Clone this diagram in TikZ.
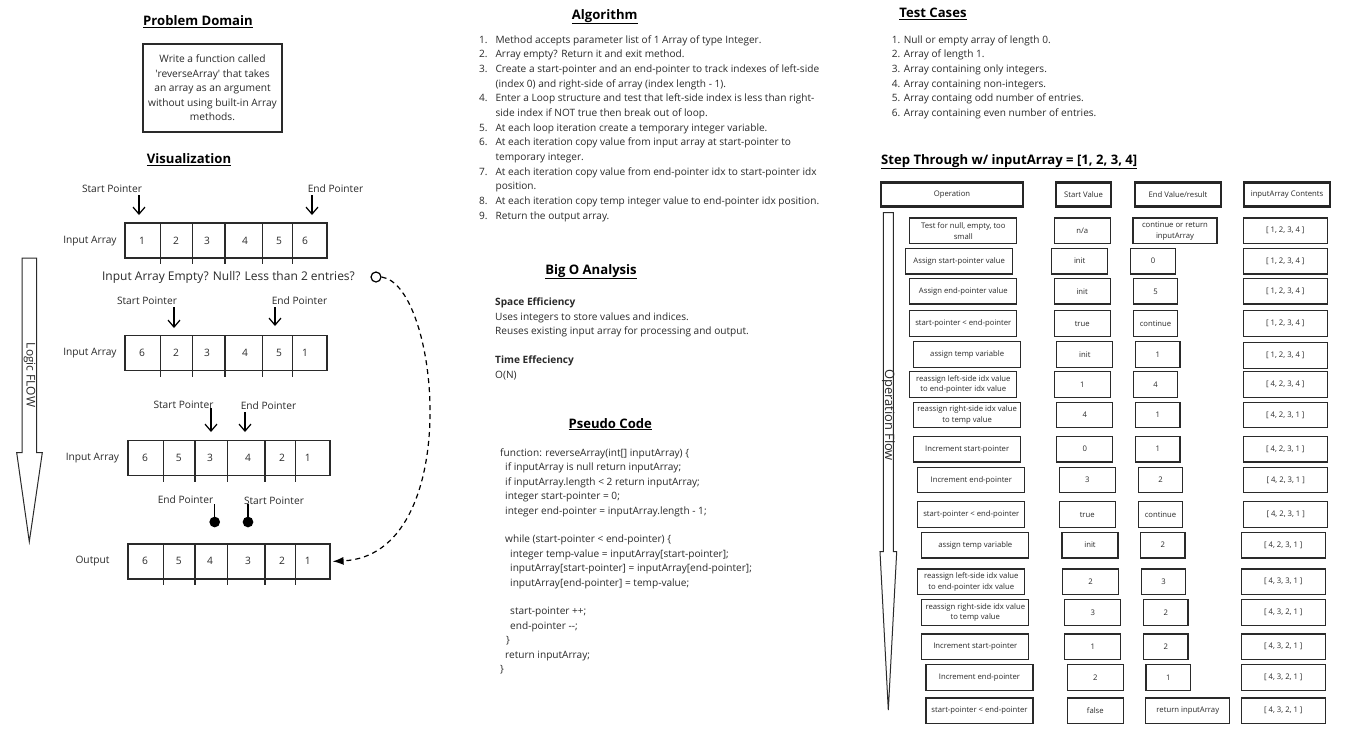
\documentclass[tikz,border=0pt]{standalone}
\usepackage{fontspec}
\setmainfont{Open Sans}
\usepackage{xcolor}
\usepackage{tikz}
\usetikzlibrary{arrows.meta}
\definecolor{ink}{HTML}{2A2A2A}
\newcommand{\tblfont}{\fontsize{7.7}{10.7}\selectfont}
\newcommand{\bodyfont}{\fontsize{10.1}{14.6}\selectfont}
\newcommand{\itm}[1]{\makebox[16.4pt][l]{#1}}

\begin{document}
\begin{tikzpicture}[x=1pt,y=-1pt,
    txt/.style={inner sep=0pt,text=ink,font=\bodyfont,align=left},
    ttl/.style={inner sep=0pt,text=black,font=\fontsize{13.1}{15}\selectfont\bfseries},
    lbl/.style={inner sep=0pt,text=ink,font=\fontsize{10.2}{12}\selectfont},
    arrbox/.style={draw=ink,line width=1.2pt,minimum width=202pt,minimum height=35pt,inner sep=0pt},
    ptr/.style={draw=black,line width=1.2pt,-{Straight Barb[length=7pt,width=12pt]}},
    pinline/.style={draw=black,line width=1.2pt,-{Circle[length=10.6pt]}},
    flow/.style={draw=ink,line width=1pt,fill=white},
    hdbox/.style={draw=black!85,line width=2.6pt,minimum height=24pt,inner sep=0pt,text=ink,font=\tblfont},
    opbox/.style={draw=ink,line width=1.3pt,minimum width=107pt,minimum height=25.5pt,inner sep=0pt,align=center,text=ink,font=\tblfont},
    valbox/.style={opbox,minimum width=56pt},
    endbox/.style={opbox,minimum width=44.5pt},
    widebox/.style={opbox,minimum width=84pt}]
    \useasboundingbox[fill=white] (0,0) rectangle (1347,742);

    %%% TITLES %%%
    \node[ttl,anchor=base] (tpd) at (198,25.7) {\underline{Problem Domain}};
    \node[ttl,anchor=base] (tvis) at (189,163.7) {\underline{Visualization}};
    \node[ttl,anchor=base] (talg) at (604.7,19) {\underline{Algorithm}};
    \node[ttl,anchor=base] (tbig) at (591,274) {\underline{Big O Analysis}};
    \node[ttl,anchor=base] (tpc) at (610.3,428) {\underline{Pseudo Code}};
    \node[ttl,anchor=base] (ttc) at (933,17.4) {\underline{Test Cases}};
    \node[ttl,anchor=base west] (tst) at (881,164) {\underline{Step Through w/ inputArray = [1, 2, 3, 4]}};

    %%% PROBLEM DOMAIN %%%
    \node[draw=ink,line width=1.2pt,minimum width=139pt,minimum height=88pt,align=center,inner sep=0pt,text=ink,font=\fontsize{10.2}{14.5}\selectfont] (pd) at (212.5,88)
        {Write a function called\\\textquotesingle reverseArray\textquotesingle{} that takes\\an array as an argument\\without using built-in Array\\methods.};

    %%% TEXT BLOCKS %%%
    % multi-line nodes sit on the baseline of their last line
    \node[txt,anchor=base west,font=\fontsize{10.1}{14.65}\selectfont] (alg) at (479,219.1)
        {\itm{1.}Method accepts parameter list of 1 Array of type Integer.\\
        \itm{2.}Array empty? Return it and exit method.\\
        \itm{3.}Create a start-pointer and an end-pointer to track indexes of left-side\\
        \itm{}(index 0) and right-side of array (index length - 1).\\
        \itm{4.}Enter a Loop structure and test that left-side index is less than right-\\
        \itm{}side index if NOT true then break out of loop.\\
        \itm{5.}At each loop iteration create a temporary integer variable.\\
        \itm{6.}At each iteration copy value from input array at start-pointer to\\
        \itm{}temporary integer.\\
        \itm{7.}At each iteration copy value from end-pointer idx to start-pointer idx\\
        \itm{}position.\\
        \itm{8.}At each iteration copy temp integer value to end-pointer idx position.\\
        \itm{9.}Return the output array.};
    \node[txt,anchor=base west] (tcs) at (891.7,116.3)
        {1. Null or empty array of length 0.\\
        2. Array of length 1.\\
        3. Array containing only integers.\\
        4. Array containing non-integers.\\
        5. Array containg odd number of entries.\\
        6. Array containing even number of entries.};
    \node[txt,anchor=base west,font=\fontsize{10.1}{14.5}\selectfont] (bigo) at (495,378)
        {\textbf{Space Efficiency}\\
        Uses integers to store values and indices.\\
        Reuses existing input array for processing and output.\\
        \mbox{}\\
        \textbf{Time Effeciency}\\
        O(N)};
    \node[txt,anchor=base west,font=\fontsize{10.1}{14.4}\selectfont] (pcode) at (500,672.5)
        {function: reverseArray(int[] inputArray) \{\\
        \hspace*{5pt}if inputArray is null return inputArray;\\
        \hspace*{5pt}if inputArray.length < 2 return inputArray;\\
        \hspace*{5pt}integer start-pointer = 0;\\
        \hspace*{5pt}integer end-pointer = inputArray.length - 1;\\
        \mbox{}\\
        \hspace*{5pt}while (start-pointer < end-pointer) \{\\
        \hspace*{10pt}integer temp-value = inputArray[start-pointer];\\
        \hspace*{10pt}inputArray[start-pointer] = inputArray[end-pointer];\\
        \hspace*{10pt}inputArray[end-pointer] = temp-value;\\
        \mbox{}\\
        \hspace*{10pt}start-pointer ++;\\
        \hspace*{10pt}end-pointer -{}-;\\
        \hspace*{6pt}\}\\
        \hspace*{5pt}return inputArray;\\
        \}};

    %%% VISUALIZATION %%%
    \node[arrbox] (a1) at (226,240.5) {};
    \draw[draw=ink,line width=1.1pt] (160.7,222)--(160.7,264) (192.3,222)--(192.3,264) (225,222)--(225,264) (262.3,222)--(262.3,264) (292.7,222)--(292.7,264);
    \node[lbl] (a1v1) at (142,241) {1}; \node[lbl] (a1v2) at (176,241) {2}; \node[lbl] (a1v3) at (207,241) {3};
    \node[lbl] (a1v4) at (245,241) {4}; \node[lbl] (a1v5) at (279,241) {5}; \node[lbl] (a1v6) at (305,241) {6};
    \node[lbl] (lia1) at (90,241) {Input Array};
    \node[lbl] (spa1) at (112,189) {Start Pointer};
    \node[lbl] (epa1) at (335.5,189) {End Pointer};
    \coordinate (spa1t) at (139,195); \coordinate (spa1h) at (139,215);
    \coordinate (epa1t) at (312,195); \coordinate (epa1h) at (312,215);
    \draw[ptr] (spa1t)--(spa1h);
    \draw[ptr] (epa1t)--(epa1h);

    \node[lbl,font=\fontsize{12}{14}\selectfont] (q) at (228.5,277) {Input Array Empty? Null? Less than 2 entries?};
    \node[draw=black,line width=1.2pt,circle,minimum size=10pt,inner sep=0pt] (qc) at (376,277) {};

    \node[arrbox] (a2) at (226,353.2) {};
    \draw[draw=ink,line width=1.1pt] (160.7,335)--(160.7,377) (192.3,335)--(192.3,377) (225,335)--(225,377) (262.3,335)--(262.3,377) (292.7,335)--(292.7,377);
    \node[lbl] (a2v1) at (142,353) {6}; \node[lbl] (a2v2) at (176,353) {2}; \node[lbl] (a2v3) at (207,353) {3};
    \node[lbl] (a2v4) at (245,353) {4}; \node[lbl] (a2v5) at (279,353) {5}; \node[lbl] (a2v6) at (305,353) {1};
    \node[lbl] (lia2) at (90,353) {Input Array};
    \node[lbl] (spa2) at (147,301) {Start Pointer};
    \node[lbl] (epa2) at (299.5,301) {End Pointer};
    \coordinate (spa2t) at (174,307); \coordinate (spa2h) at (174,328);
    \coordinate (epa2t) at (275,307); \coordinate (epa2h) at (275,326);
    \draw[ptr] (spa2t)--(spa2h);
    \draw[ptr] (epa2t)--(epa2h);

    \node[arrbox] (a3) at (229,458.3) {};
    \draw[draw=ink,line width=1.1pt] (163.3,440)--(163.3,482) (195,440)--(195,482) (227.7,440)--(227.7,482) (265,440)--(265,482) (295.3,440)--(295.3,482);
    \node[lbl] (a3v1) at (145,458) {6}; \node[lbl] (a3v2) at (178.7,458) {5}; \node[lbl] (a3v3) at (210,458) {3};
    \node[lbl] (a3v4) at (248,458) {4}; \node[lbl] (a3v5) at (282,458) {2}; \node[lbl] (a3v6) at (307.7,458) {1};
    \node[lbl] (lia3) at (92.5,458) {Input Array};
    \node[lbl] (spa3) at (183.5,405) {Start Pointer};
    \node[lbl] (epa3) at (268.5,406) {End Pointer};
    \coordinate (spa3t) at (211,408); \coordinate (spa3h) at (211,432);
    \coordinate (epa3t) at (245,412); \coordinate (epa3h) at (245,432);
    \draw[ptr] (spa3t)--(spa3h);
    \draw[ptr] (epa3t)--(epa3h);

    \node[arrbox] (a4) at (229,561.5) {};
    \draw[draw=ink,line width=1.1pt] (163.3,543)--(163.3,585) (195,543)--(195,585) (227.7,543)--(227.7,585) (265,543)--(265,585) (295.3,543)--(295.3,585);
    \node[lbl] (a4v1) at (145,561) {6}; \node[lbl] (a4v2) at (178.7,561) {5}; \node[lbl] (a4v3) at (210,561) {4};
    \node[lbl] (a4v4) at (248,561) {3}; \node[lbl] (a4v5) at (282,561) {2}; \node[lbl] (a4v6) at (307.7,561) {1};
    \node[lbl] (out) at (92.5,561) {Output};
    \node[lbl] (epa4) at (185.5,500) {End Pointer};
    \node[lbl] (spa4) at (274,501) {Start Pointer};
    \coordinate (epa4t) at (214.7,504); \coordinate (epa4h) at (214.7,527.3);
    \coordinate (spa4t) at (248,504); \coordinate (spa4h) at (248,527.3);
    \draw[pinline] (epa4t)--(epa4h);
    \draw[pinline] (spa4t)--(spa4h);

    \draw[line width=1.2pt,dash pattern=on 5pt off 4pt,-{Latex[length=11pt,width=8pt]},shorten >=2pt]
        (qc.east) .. controls (440,285) and (465,555) .. (a4.east);

    %%% LOGIC FLOW %%%
    \draw[flow] (22,258)--(36.7,258)--(36.7,452.7)--(42.3,452.7)--(29.3,541.7)--(16.7,452.7)--(22,452.7)--cycle;
    \node[rotate=-90,inner sep=0pt,text=ink,font=\fontsize{12}{14}\selectfont] (lf) at (29.5,375) {Logic FLOW};

    %%% STEP THROUGH TABLE %%%
    \node[hdbox,minimum width=142pt] (hop) at (952,194.7) {Operation};
    \node[hdbox,minimum width=55pt] (hsv) at (1083.5,194.7) {Start Value};
    \node[hdbox,minimum width=86pt] (hev) at (1178,194.7) {End Value/result};
    \node[hdbox,minimum width=86pt] (hic) at (1287,194.7) {inputArray Contents};

    \draw[flow] (883.3,212.7)--(893.3,212.7)--(893.3,551.7)--(896.7,551.7)--(888.3,710)--(880,551.7)--(883.3,551.7)--cycle;
    \node[rotate=-90,inner sep=0pt,text=ink,font=\fontsize{12.9}{15}\selectfont] (of) at (888.5,415) {Operation Flow};

    \node[opbox] (o1) at (963.3,230.8) {Test for null, empty, too\\small};
    \node[valbox] (s1) at (1082.2,230.8) {n/a};
    \node[widebox] (e1) at (1175,230.8) {continue or return\\inputArray};
    \node[widebox] (c1) at (1285.3,230.8) {[ 1, 2, 3, 4 ]};

    \node[opbox] (o2) at (959.2,261.2) {Assign start-pointer value};
    \node[valbox] (s2) at (1079.7,261.2) {init};
    \node[endbox] (e2) at (1153,261.2) {0};
    \node[widebox] (c2) at (1285.3,261.2) {[ 1, 2, 3, 4 ]};

    \node[opbox] (o3) at (963.3,291.3) {Assign end-pointer value};
    \node[valbox] (s3) at (1082.2,291.3) {init};
    \node[endbox] (e3) at (1155.5,291.3) {5};
    \node[widebox] (c3) at (1285.3,291.3) {[ 1, 2, 3, 4 ]};

    \node[opbox] (o4) at (963.3,323.5) {start-pointer < end-pointer};
    \node[valbox] (s4) at (1082.2,323.5) {true};
    \node[endbox] (e4) at (1155.5,323.5) {continue};
    \node[widebox] (c4) at (1285.3,323.5) {[ 1, 2, 3, 4 ]};

    \node[opbox] (o5) at (967.2,354.5) {assign temp variable};
    \node[valbox] (s5) at (1084.8,354.5) {init};
    \node[endbox] (e5) at (1157.8,354.5) {1};
    \node[widebox] (c5) at (1285.3,355.5) {[ 1, 2, 3, 4 ]};

    \node[opbox] (o6) at (963.3,384.5) {reassign left-side idx value\\to end-pointer idx value};
    \node[valbox] (s6) at (1082.2,384.5) {1};
    \node[endbox] (e6) at (1155.5,384.5) {4};
    \node[widebox] (c6) at (1285.3,384.5) {[ 4, 2, 3, 4 ]};

    \node[opbox] (o7) at (967.2,415) {reassign right-side idx value\\to temp value};
    \node[valbox] (s7) at (1084.8,415) {4};
    \node[endbox] (e7) at (1157.8,415) {1};
    \node[widebox] (c7) at (1285.3,415) {[ 4, 2, 3, 1 ]};

    \node[opbox] (o8) at (967.2,449.2) {Increment start-pointer};
    \node[valbox] (s8) at (1084.8,449.2) {0};
    \node[endbox] (e8) at (1157.8,449.2) {1};
    \node[widebox] (c8) at (1285.3,449.2) {[ 4, 2, 3, 1 ]};

    \node[opbox] (o9) at (971.3,480) {Increment end-pointer};
    \node[valbox] (s9) at (1087.2,480) {3};
    \node[endbox] (e9) at (1160.5,480) {2};
    \node[widebox] (c9) at (1285.7,480) {[ 4, 2, 3, 1 ]};

    \node[opbox] (o10) at (971.3,514.5) {start-pointer < end-pointer};
    \node[valbox] (s10) at (1087.2,514.5) {true};
    \node[endbox] (e10) at (1160.5,514.5) {continue};
    \node[widebox] (c10) at (1285.7,514.5) {[ 4, 2, 3, 1 ]};

    \node[opbox] (o11) at (975.3,545.2) {assign temp variable};
    \node[valbox] (s11) at (1090,545.2) {init};
    \node[endbox] (e11) at (1162.8,545.2) {2};
    \node[widebox] (c11) at (1283.3,545.2) {[ 4, 2, 3, 1 ]};

    \node[opbox] (o12) at (971.3,581.8) {reassign left-side idx value\\to end-pointer idx value};
    \node[valbox] (s12) at (1090.5,581.8) {2};
    \node[endbox] (e12) at (1163.5,581.8) {3};
    \node[widebox] (c12) at (1283.3,581.8) {[ 4, 3, 3, 1 ]};

    \node[opbox] (o13) at (975.3,612.5) {reassign right-side idx value\\to temp value};
    \node[valbox] (s13) at (1092.8,612.5) {3};
    \node[endbox] (e13) at (1165.8,612.5) {2};
    \node[widebox] (c13) at (1283.3,612.5) {[ 4, 3, 2, 1 ]};

    \node[opbox] (o14) at (975.3,646.7) {Increment start-pointer};
    \node[valbox] (s14) at (1092.8,646.7) {1};
    \node[endbox] (e14) at (1165.8,646.7) {2};
    \node[widebox] (c14) at (1283.3,646.7) {[ 4, 3, 2, 1 ]};

    \node[opbox] (o15) at (979.5,677.5) {Increment end-pointer};
    \node[valbox] (s15) at (1095.3,677.5) {2};
    \node[endbox] (e15) at (1168.3,677.5) {1};
    \node[widebox] (c15) at (1283.3,677.5) {[ 4, 3, 2, 1 ]};

    \node[opbox] (o16) at (979.5,710.8) {start-pointer < end-pointer};
    \node[valbox] (s16) at (1095.3,710.8) {false};
    \node[widebox] (e16) at (1187.8,710.8) {return inputArray};
    \node[widebox] (c16) at (1283.3,710.8) {[ 4, 3, 2, 1 ]};
\end{tikzpicture}
\end{document}
